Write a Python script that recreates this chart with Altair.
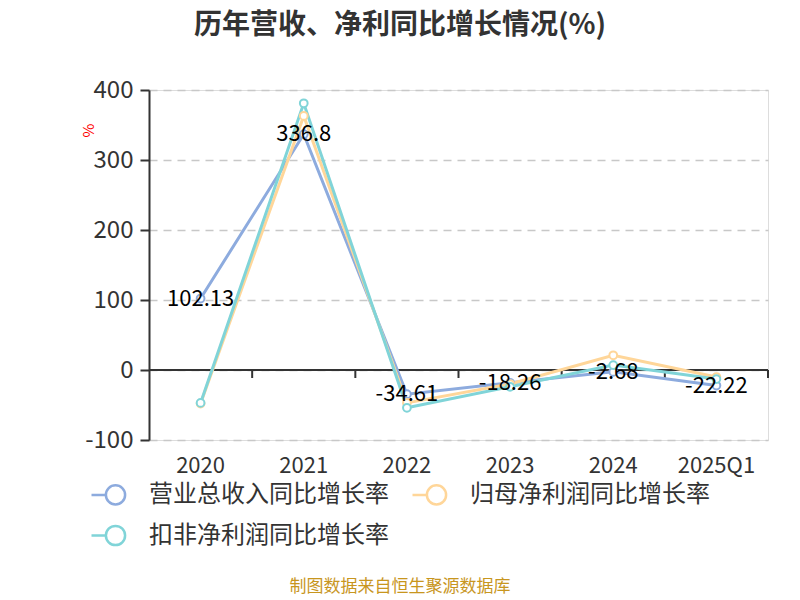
import altair as alt
import pandas as pd

categories = ["2020", "2021", "2022", "2023", "2024", "2025Q1"]
series_names = ["营业总收入同比增长率", "归母净利润同比增长率", "扣非净利润同比增长率"]
revenue_growth = [102.13, 336.8, -34.61, -18.26, -2.68, -22.22]
net_profit_growth = [-48, 363, -47, -20, 21, -10]
deducted_growth = [-47, 381, -54, -24, 7, -13]
y_ticks = [-100, 0, 100, 200, 300, 400]
colors = ["#8DABDE", "#FFD699", "#80D4D8"]

FONT = "Noto Sans CJK SC"

rows = []
for name, vals in zip(series_names, [revenue_growth, net_profit_growth, deducted_growth]):
    for c, v in zip(categories, vals):
        rows.append({"cat": c, "value": v, "series": name, "order": series_names.index(name)})
df = pd.DataFrame(rows)
label_df = pd.DataFrame({"cat": categories, "value": revenue_growth,
                         "label": [f"{v:g}" for v in revenue_growth]})
cat_df = pd.DataFrame({"cat": categories})

x_scale = alt.Scale(type="band", domain=categories, paddingInner=0, paddingOuter=0)
y_scale = alt.Scale(domain=[-100, 400], nice=False, zero=False)
color_scale = alt.Scale(domain=series_names, range=colors)

legend_path = "M-1,0L-0.4,0M0.4,0A0.4,0.4,0,1,1,-0.4,0A0.4,0.4,0,1,1,0.4,0"
legend_values = [series_names[0], series_names[2], series_names[1]]

color_enc = alt.Color(
    "series:N",
    sort=series_names,
    scale=color_scale,
    legend=alt.Legend(
        title=None, orient="none", legendX=-59, legendY=379, columns=2,
        values=legend_values,
        symbolType=legend_path, symbolSize=2304, symbolStrokeWidth=2.5,
        symbolFillColor="white", labelFont=FONT, labelFontSize=24,
        labelColor="#333333", labelOffset=8, labelLimit=400,
        columnPadding=18, rowPadding=-4, symbolOffset=0,
    ),
)

x_enc = alt.X(
    "cat:N", scale=x_scale, sort=categories, title=None,
    axis=alt.Axis(domain=False, ticks=False, labelPadding=15, labelAngle=0,
                  labelAlign="center", labelBaseline="top",
                  labelFont=FONT, labelFontSize=22, labelColor="#333333", grid=False),
)
y_enc = alt.Y(
    "value:Q", scale=y_scale, title="%",
    axis=alt.Axis(values=y_ticks, domain=True, domainColor="#333333", domainWidth=2,
                  ticks=True, tickSize=9, tickColor="#333333", tickWidth=2,
                  labelFont=FONT, labelFontSize=24, labelColor="#333333", labelPadding=7,
                  labelExpr="'' + datum.value",
                  grid=True, gridColor="#C8C8C8", gridDash=[8, 6], gridWidth=1.5,
                  titleColor="red", titleFont=FONT, titleFontSize=15, titleFontWeight="normal",
                  titleX=-61, titleY=40, titleAngle=270, titleAlign="center", titleBaseline="middle"),
)

base = alt.Chart(df)

lines = base.mark_line(strokeWidth=3).encode(
    x=x_enc, y=y_enc, color=color_enc, order="order:Q"
)
points = base.mark_point(filled=False, fill="white", size=60, strokeWidth=2, opacity=1).encode(
    x=alt.X("cat:N", scale=x_scale, sort=categories),
    y=alt.Y("value:Q", scale=y_scale),
    color=alt.Color("series:N", sort=series_names, scale=color_scale),
    order="order:Q",
)

zero_line = alt.Chart(cat_df).mark_rule(color="#333333", strokeWidth=2).encode(
    y=alt.datum(0, scale=y_scale)
)
x_ticks = alt.Chart(cat_df).mark_rule(color="#333333", strokeWidth=2, y2Offset=8).encode(
    x=alt.X("cat:N", scale=x_scale, sort=categories, bandPosition=1),
    y=alt.datum(0),
    y2=alt.datum(0),
)

labels = alt.Chart(label_df).mark_text(
    font=FONT, fontSize=22, color="#000000", align="center", baseline="middle"
).encode(
    x=alt.X("cat:N", scale=x_scale, sort=categories),
    y=alt.Y("value:Q", scale=y_scale),
    text="label:N",
)

title_df = pd.DataFrame({"t": ["历年营收、净利同比增长情况(%)"]})
title = alt.Chart(title_df).mark_text(
    font=FONT, fontSize=28, fontWeight="bold", color="#333333", align="center", baseline="middle"
).encode(x=alt.value(251), y=alt.value(-64), text="t:N")

footer_df = pd.DataFrame({"t": ["制图数据来自恒生聚源数据库"]})
footer = alt.Chart(footer_df).mark_text(
    font=FONT, fontSize=17, color="#C8961E", align="center", baseline="middle"
).encode(x=alt.value(251), y=alt.value(497), text="t:N")

chart = alt.layer(zero_line, x_ticks, lines, points, labels, title, footer).properties(
    width=619, height=350,
    autosize=alt.AutoSizeParams(type="none"),
    padding={"left": 141, "top": 82, "right": 24, "bottom": 156},
).configure_view(stroke=None).configure(background="white")

chart.save("out.html", embed_options={"renderer": "svg", "actions": False})
